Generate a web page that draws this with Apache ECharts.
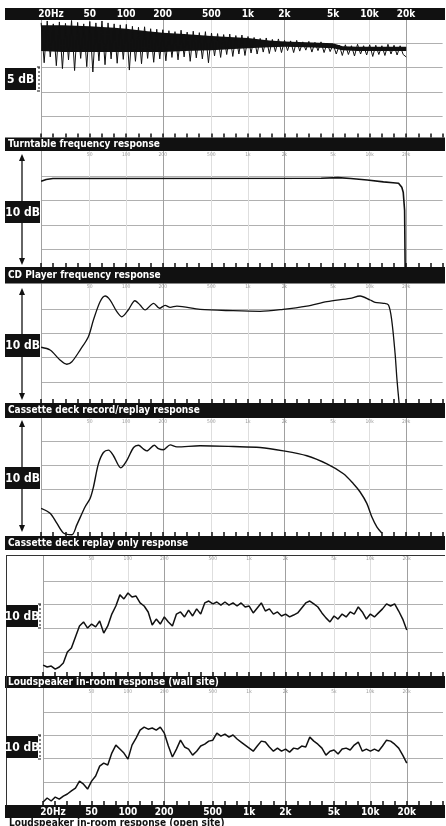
<!DOCTYPE html>
<html><head><meta charset="utf-8">
<script src="https://cdn.jsdelivr.net/npm/echarts@6/dist/echarts.min.js"></script>
<style>html,body{margin:0;padding:0;background:#fff}#c{width:446px;height:826px}</style>
</head><body><div id="c"></div>
<script>
// ---------------- DATA ----------------
const tickFreqs = [20, 50, 100, 200, 500, 1000, 2000, 5000, 10000, 20000];
const tickLabels = ['20Hz', '50', '100', '200', '500', '1k', '2k', '5k', '10k', '20k'];
const majorGridFreqs = [20, 200, 2000, 20000];
const minorGridFreqs = [50, 100, 500, 1000, 5000, 10000];
const captions = [
  'Turntable frequency response',
  'CD Player frequency response',
  'Cassette deck record/replay response',
  'Cassette deck replay only response',
  'Loudspeaker in-room response (wall site)',
  'Loudspeaker in-room response (open site)'
];
const scaleLabels = ['5 dB', '10 dB', '10 dB', '10 dB', '10 dB', '10 dB'];
const gridLineValues = [[0, 5, 10, 15], [0, 2, 4, 6], [0, 2, 4, 6], [0, 2, 4, 6], [0, 10, 20, 30], [0, 10, 20, 30]];

// Turntable: dense noise core (upper / lower edge) in dB
const turntableCoreFreqs = [20, 30, 50, 80, 100, 150, 200, 300, 500, 700, 1000, 1500, 2000, 3000, 5000, 6000, 8000, 12000, 20000];
const turntableCoreTop = [18.7, 18.7, 18.5, 18.2, 18.0, 17.5, 17.2, 16.9, 16.5, 16.3, 16.1, 15.6, 15.4, 15.2, 15.0, 14.4, 14.3, 14.3, 14.3];
const turntableCoreBottom = [13.4, 13.2, 13.2, 13.2, 13.2, 13.2, 13.2, 13.4, 13.6, 13.8, 14.0, 14.2, 14.3, 14.2, 14.0, 13.6, 13.4, 13.4, 13.4];
// Turntable: measured trace, 40 points per decade from 20 Hz
const turntableTrace = [
  19.2, 11.0, 19.6, 12.2, 19.0, 10.4, 19.4, 9.8, 19.1, 11.6,
  19.7, 9.4, 19.3, 11.9, 19.0, 10.2, 19.5, 9.1, 19.2, 11.4,
  19.6, 10.6, 19.2, 11.8, 19.0, 10.9, 18.8, 11.7, 18.9, 9.5,
  18.5, 11.3, 18.3, 10.8, 18.4, 11.9, 18.0, 11.1, 17.9, 11.8,
  17.8, 11.4, 17.6, 12.1, 17.4, 11.6, 17.7, 12.2, 17.3, 11.3,
  17.5, 12.0, 17.2, 11.8, 17.4, 11.0, 17.1, 12.4, 17.0, 12.1,
  16.8, 12.7, 16.9, 12.3, 16.6, 12.8, 16.7, 12.5, 16.4, 13.0,
  16.2, 12.8, 16.0, 13.2, 16.1, 12.9, 15.8, 13.3, 15.9, 13.1,
  15.6, 13.5, 15.5, 13.1, 15.6, 13.4, 15.3, 13.6, 15.4, 13.2,
  15.2, 13.5, 15.3, 13.1, 15.0, 13.3, 14.8, 12.8, 14.6, 12.5,
  14.7, 12.7, 14.5, 12.4, 14.8, 12.8, 14.5, 12.6, 14.7, 12.3,
  14.6, 12.7, 14.5, 12.5, 14.8, 12.8, 14.6, 12.6, 14.5, 12.7,
  12.2
];
const turntablePointsPerDecade = 40;

// CD player [Hz, dB]
const cdFreqs = [20, 22, 25, 4000, 5500, 7000, 9550, 13000, 15600, 17300, 18400, 18900, 19400, 19600, 19700];
const cdLevels = [5.6, 5.75, 5.82, 5.85, 5.9, 5.82, 5.7, 5.55, 5.48, 5.43, 5.1, 4.7, 3.2, -1.5, -3];

// Cassette record/replay [Hz, dB]
const recFreqs = [20, 23.7, 28.6, 32.5, 35.8, 41.8, 48.9, 53.8, 61, 67.1, 73.8, 83.8, 92, 104, 118, 130, 143, 168, 188, 209, 230, 261, 405, 757, 1260, 1946, 3050, 4460, 6920, 8360, 10100, 11100, 13000, 14300, 15200, 16200, 16800, 17600];
const recLevels = [2.86, 2.63, 1.81, 1.46, 1.67, 2.63, 3.73, 5.10, 6.61, 7.08, 6.75, 5.79, 5.37, 5.93, 6.69, 6.34, 5.93, 6.48, 6.07, 6.31, 6.15, 6.25, 5.98, 5.87, 5.82, 5.98, 6.25, 6.61, 6.89, 7.08, 6.75, 6.56, 6.48, 6.34, 5.10, 2.36, 0.16, -2.03];

// Cassette replay only [Hz, dB]
const playFreqs = [20, 23.7, 26.9, 30.5, 35.8, 39.3, 46, 50.5, 53.8, 59.1, 65, 71.5, 78.6, 90.4, 101, 115, 126, 139, 148, 170, 184, 202, 230, 261, 405, 760, 1260, 1958, 3050, 4460, 6100, 7360, 8360, 9490, 10400, 11500, 12600];
const playLevels = [0.39, -0.02, -0.85, -1.67, -1.81, -0.99, 0.52, 1.21, 2.16, 4.09, 5.04, 5.24, 4.77, 3.76, 4.36, 5.46, 5.65, 5.32, 5.18, 5.65, 5.37, 5.27, 5.68, 5.51, 5.60, 5.54, 5.46, 5.18, 4.77, 4.09, 3.27, 2.44, 1.75, 0.80, -0.30, -1.18, -1.67];

// Loudspeaker traces, 30 points per decade from 20 Hz (dB)
const speakerPointsPerDecade = 30;
const wallSite = [
  -5.5, -6.3, -5.9, -7.2, -6.3, -4.6, 0.0, 1.7, 6.3, 11.0,
  12.7, 10.1, 11.8, 10.6, 13.1, 8.0, 11.0, 16.0, 19.4, 24.1,
  22.4, 24.9, 23.2, 23.6, 20.7, 19.4, 16.9, 11.4, 13.9, 11.8,
  14.8, 12.7, 11.0, 16.0, 16.9, 14.8, 17.7, 15.2, 18.2, 16.0,
  20.7, 21.5, 20.3, 21.1, 19.8, 21.1, 19.8, 20.7, 19.4, 20.7,
  19.0, 19.4, 16.5, 18.6, 20.7, 17.3, 18.2, 16.0, 16.9, 15.2,
  16.0, 14.8, 15.6, 16.5, 18.6, 20.7, 21.5, 20.3, 19.0, 16.5,
  14.4, 12.7, 15.2, 13.9, 16.0, 14.8, 16.9, 16.0, 19.0, 16.9,
  13.9, 16.0, 14.8, 16.5, 18.2, 20.3, 19.4, 20.3, 17.3, 13.9,
  9.3
];
const openSite = [
  -8.5, -6.8, -8.1, -6.4, -7.3, -6.0, -5.1, -3.8, -2.6, 0.4,
  -0.9, -3.0, 0.4, 2.6, 6.8, 8.1, 7.3, 12.4, 15.8, 14.1,
  12.4, 9.8, 15.8, 18.8, 22.2, 23.5, 22.6, 23.1, 22.2, 23.5,
  20.9, 15.4, 10.7, 14.1, 17.9, 15.0, 14.1, 11.5, 13.2, 15.4,
  16.2, 17.5, 17.9, 20.9, 19.6, 20.5, 19.2, 20.1, 18.4, 17.1,
  15.8, 14.5, 13.2, 15.4, 17.5, 17.1, 15.0, 13.2, 14.5, 13.2,
  14.1, 12.8, 14.5, 14.1, 15.4, 15.0, 19.2, 17.5, 16.2, 14.5,
  11.5, 13.2, 13.7, 12.0, 14.1, 14.5, 13.7, 15.8, 17.1, 13.2,
  14.1, 13.2, 14.1, 13.2, 15.4, 17.9, 17.5, 16.2, 14.5, 11.5,
  8.1
];

// ---------------- LAYOUT ----------------
const lx = f => 10 * Math.log10(f);           // axis unit: tenth of a decade
const gridFreq = (k, perDecade) => 20 * Math.pow(10, k / perDecade);
const X_MIN = 13, X_MAX = 46, PLOT_W = 401.6;
const panels = [
  {top: 20, height: 117.6, left: 41, ymin: -4.4, ymax: 19.8},
  {top: 151, height: 116, left: 41, ymin: -1.46, ymax: 8.09},
  {top: 283.5, height: 119.5, left: 41, ymin: -1.73, ymax: 8.11},
  {top: 418, height: 118, left: 41, ymin: -1.92, ymax: 7.92},
  {top: 555.5, height: 120.5, left: 43, ymin: -10.1, ymax: 40.7},
  {top: 688, height: 117, left: 43, ymin: -9.8, ymax: 40.2}
];
const COND = "'Liberation Sans Narrow','DejaVu Sans Condensed','Roboto Condensed',sans-serif";
const INK = '#111';

function labelFor(v, tiny) {
  if (Math.abs(v - Math.round(v)) > 1e-6) return '';
  const i = tickFreqs.findIndex(f => Math.round(lx(f)) === Math.round(v));
  if (i < 0) return '';
  if (tiny) return i === 0 ? '' : tickLabels[i];
  return i === 0 ? '{hz|' + tickLabels[0] + '}' : tickLabels[i];
}

const grids = [], xAxes = [], yAxes = [], series = [];
panels.forEach((p, i) => {
  grids.push({left: p.left, top: p.top, width: PLOT_W, height: p.height});
  const bigLabel = {
    show: true, inside: false, margin: i === 5 ? 2 : 1, color: '#fff', fontSize: 10, fontWeight: 'bold',
    fontFamily: COND, formatter: v => labelFor(v, false),
    rich: {hz: {padding: [0, 0, 0, 20], color: '#fff', fontSize: 10, fontWeight: 'bold', fontFamily: COND}}
  };
  // bottom axis: third-octave ticks
  xAxes.push({
    gridIndex: i, type: 'value', min: X_MIN, max: X_MAX, interval: 1, position: 'bottom', z: 50,
    axisLine: {show: false, onZero: false}, splitLine: {show: false},
    axisTick: {show: true, inside: true, length: 4, lineStyle: {color: INK, width: 1.5}},
    axisLabel: i === 5 ? bigLabel : {show: false}
  });
  // top axis: labels
  xAxes.push({
    gridIndex: i, type: 'value', min: X_MIN, max: X_MAX, interval: 1, position: 'top', z: 50,
    axisLine: {show: false, onZero: false}, splitLine: {show: false}, axisTick: {show: false},
    axisLabel: i === 0 ? bigLabel : {
      show: true, inside: true, margin: 1, color: '#9a9a9a', fontSize: 5, fontFamily: COND,
      formatter: v => labelFor(v, true)
    }
  });
  yAxes.push({gridIndex: i, type: 'value', min: p.ymin, max: p.ymax, show: false});

  const ml = [];
  gridLineValues[i].forEach(v => ml.push({yAxis: v, lineStyle: {color: '#b0b0b0', width: 1, type: 'solid'}}));
  minorGridFreqs.forEach(f => ml.push({xAxis: lx(f), lineStyle: {color: '#dedede', width: 1, type: 'solid'}}));
  majorGridFreqs.forEach(f => ml.push({xAxis: lx(f), lineStyle: {color: '#a0a0a0', width: 1, type: 'solid'}}));
  series.push({
    type: 'line', xAxisIndex: 2 * i, yAxisIndex: i, data: [], silent: true, z: 1,
    markLine: {silent: true, z: 1, symbol: 'none', label: {show: false}, animation: false, data: ml}
  });
});

function lineSeries(i, data, width, smooth) {
  return {
    type: 'line', xAxisIndex: 2 * i, yAxisIndex: i, data: data, showSymbol: false, symbol: 'none',
    smooth: smooth || false, z: 6, silent: true, clip: true,
    lineStyle: {color: INK, width: width}
  };
}

// Turntable core band
series.push({
  type: 'custom', xAxisIndex: 0, yAxisIndex: 0, data: [[lx(100), 15]], z: 6, silent: true, clip: true,
  renderItem: (params, api) => {
    const pts = [];
    turntableCoreFreqs.forEach((f, k) => pts.push(api.coord([lx(f), turntableCoreTop[k]])));
    for (let k = turntableCoreFreqs.length - 1; k >= 0; k--) pts.push(api.coord([lx(turntableCoreFreqs[k]), turntableCoreBottom[k]]));
    return {type: 'polygon', shape: {points: pts}, style: {fill: INK}};
  }
});
series.push(lineSeries(0, turntableTrace.map((v, k) => [lx(gridFreq(k, turntablePointsPerDecade)), v]), 1.0));
series.push(lineSeries(1, cdFreqs.map((f, k) => [lx(f), cdLevels[k]]), 1.6));
series.push(lineSeries(2, recFreqs.map((f, k) => [lx(f), recLevels[k]]), 1.3, 0.3));
series.push(lineSeries(3, playFreqs.map((f, k) => [lx(f), playLevels[k]]), 1.4, 0.3));
series.push(lineSeries(4, wallSite.map((v, k) => [lx(gridFreq(k, speakerPointsPerDecade)), v]), 1.5));
series.push(lineSeries(5, openSite.map((v, k) => [lx(gridFreq(k, speakerPointsPerDecade)), v]), 1.5));

// ---------------- DECORATION ----------------
const BAND_X = 5, BAND_W = 440;
const bands = [
  {y: 8, h: 12}, {y: 137.5, h: 13.5}, {y: 267, h: 16.5}, {y: 403, h: 15},
  {y: 536, h: 14}, {y: 676, h: 12}, {y: 805, h: 13}
];
const g = [];
bands.forEach(b => g.push({type: 'rect', z: 10, silent: true, shape: {x: BAND_X, y: b.y, width: BAND_W, height: b.h}, style: {fill: INK}}));
captions.slice(0, 5).forEach((t, i) => {
  const b = bands[i + 1];
  g.push({type: 'text', z: 11, silent: true, x: 8, y: b.y + b.h / 2,
    style: {text: t, fill: '#fff', font: 'bold 10px ' + COND, verticalAlign: 'middle', align: 'left'}});
});
g.push({type: 'text', z: 11, silent: true, x: 9, y: 818,
  style: {text: captions[5], fill: INK, font: 'bold 10px ' + COND, verticalAlign: 'top', align: 'left'}});

const boxes = [
  {x: 5, y: 68, w: 31, h: 22}, {x: 5, y: 201, w: 35, h: 22}, {x: 5, y: 334, w: 35, h: 23},
  {x: 5, y: 467, w: 35, h: 22}, {x: 6, y: 605, w: 32, h: 22}, {x: 6, y: 736, w: 32, h: 22}
];
// double arrows for panels 2-4
[[154, 265], [288, 400], [420, 532]].forEach(a => {
  g.push({type: 'line', z: 11, silent: true, shape: {x1: 22, y1: a[0] + 4, x2: 22, y2: a[1] - 4}, style: {stroke: INK, lineWidth: 1.3}});
  g.push({type: 'polygon', z: 11, silent: true, shape: {points: [[22, a[0]], [19, a[0] + 7], [25, a[0] + 7]]}, style: {fill: INK}});
  g.push({type: 'polygon', z: 11, silent: true, shape: {points: [[22, a[1]], [19, a[1] - 7], [25, a[1] - 7]]}, style: {fill: INK}});
});
boxes.forEach((b, i) => {
  g.push({type: 'rect', z: 12, silent: true, shape: {x: b.x, y: b.y, width: b.w, height: b.h}, style: {fill: INK}});
  g.push({type: 'text', z: 13, silent: true, x: b.x + b.w / 2, y: b.y + b.h / 2 + 0.5,
    style: {text: scaleLabels[i], fill: '#fff', font: 'bold 12px ' + COND, align: 'center', verticalAlign: 'middle'}});
});
// brackets beside the 5/10 dB boxes
[[39, 67, 91], [40, 604, 628], [40, 735, 759]].forEach(b => {
  g.push({type: 'line', z: 11, silent: true, shape: {x1: b[0], y1: b[1], x2: b[0], y2: b[2]}, style: {stroke: INK, lineWidth: 1, lineDash: [2, 2]}});
  g.push({type: 'line', z: 11, silent: true, shape: {x1: b[0] - 2, y1: b[1], x2: b[0] + 1, y2: b[1]}, style: {stroke: INK, lineWidth: 1}});
  g.push({type: 'line', z: 11, silent: true, shape: {x1: b[0] - 2, y1: b[2], x2: b[0] + 1, y2: b[2]}, style: {stroke: INK, lineWidth: 1}});
});
// frame of the loudspeaker block
g.push({type: 'line', z: 11, silent: true, shape: {x1: 6, y1: 555.5, x2: 445, y2: 555.5}, style: {stroke: '#333', lineWidth: 1}});
g.push({type: 'line', z: 11, silent: true, shape: {x1: 6.5, y1: 555, x2: 6.5, y2: 805}, style: {stroke: '#333', lineWidth: 1}});

const chart = echarts.init(document.getElementById('c'), null, {renderer: 'canvas', width: 446, height: 826});
chart.setOption({
  animation: false,
  backgroundColor: '#fff',
  grid: grids,
  xAxis: xAxes,
  yAxis: yAxes,
  series: series,
  graphic: {elements: g}
});
</script>
</body></html>
